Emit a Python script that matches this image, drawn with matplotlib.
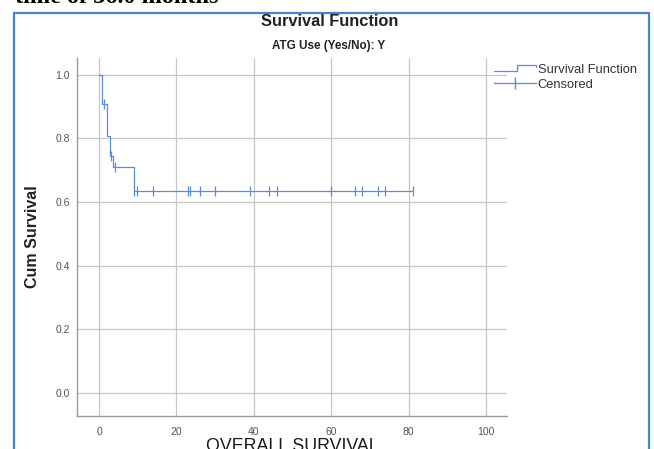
import matplotlib
matplotlib.use("Agg")
import matplotlib.pyplot as plt
from matplotlib.lines import Line2D
from matplotlib.patches import Rectangle
from matplotlib.legend_handler import HandlerBase

plt.rcParams['font.family'] = ['Liberation Sans', 'DejaVu Sans']

# Kaplan-Meier steps (time, cum survival)
step_times = [0, 0.7, 2.1, 2.8, 3.7, 8.9]
step_surv = [1.0, 0.909, 0.808, 0.745, 0.711, 0.636]
last_time = 81

# censored cases
censor_times = [1.3, 3.1, 4.0, 8.9, 9.8, 14, 23, 23.5, 26, 30, 39, 44, 46, 60, 66, 68, 72, 74, 81]
censor_surv = [0.909, 0.745, 0.711] + [0.636] * 16

x_ticks = [0, 20, 40, 60, 80, 100]
y_ticks = [0.0, 0.2, 0.4, 0.6, 0.8, 1.0]

blue = "#5b8fd3"
grid_col = "#c8c8c8"


class StepHandler(HandlerBase):
    # little step icon like the SPSS legend
    def create_artists(self, legend, orig, xd, yd, w, h, fontsize, trans):
        xs = [xd, xd + w * 0.55, xd + w * 0.55, xd + w, xd + w]
        ys = [yd + h * 0.15, yd + h * 0.15, yd + h * 0.85, yd + h * 0.85, yd + h * 0.6]
        ln = Line2D(xs, ys, color=blue, lw=0.9, transform=trans)
        return [ln]


fig = plt.figure(figsize=(6.54, 4.49), dpi=100)
W, H = 654, 449
ax = fig.add_axes([77 / W, 1 - 415.6 / H, 430 / W, (415.6 - 58) / H])

ax.step(step_times + [last_time], step_surv + [step_surv[-1]], where='post', color=blue, lw=0.9)
ax.plot(censor_times, censor_surv, linestyle='none', marker='|', markersize=7,
        markeredgewidth=0.9, color=blue)

ax.set_xlim(-5.7, 105.4)
ax.set_ylim(-0.071, 1.053)
ax.set_xticks(x_ticks)
ax.set_yticks(y_ticks)
ax.set_xticklabels([str(v) for v in x_ticks])
ax.set_yticklabels([f"{v:.1f}" for v in y_ticks])
ax.tick_params(length=0, labelsize=7.5, colors="#555555")
ax.tick_params(axis='x', pad=8)
ax.tick_params(axis='y', pad=5)
ax.grid(True, color=grid_col, lw=0.9)
ax.set_axisbelow(True)
for s in ['top', 'right']:
    ax.spines[s].set_visible(False)
for s in ['left', 'bottom']:
    ax.spines[s].set_color("#999999")
    ax.spines[s].set_linewidth(1.0)

ax.set_ylabel("Cum Survival", fontsize=11.5, fontweight='bold', color="#222222")
ax.yaxis.set_label_coords(-0.086, 0.5)
ax.set_xlabel("OVERALL SURVIVAL", fontsize=12.8, color="#1a1a1a")
ax.xaxis.set_label_coords(0.5, -0.063)
ax.xaxis.label.set_verticalalignment('top')

handles = [Line2D([], [], color=blue), Line2D([], [], color=blue, marker='|', markersize=8, lw=0.9)]
leg = fig.legend(handles, ["Survival Function", "Censored"], loc='upper left',
                 bbox_to_anchor=(482 / W, 1 - 52 / H), frameon=False, fontsize=9.3,
                 handlelength=3.3, handletextpad=0.1, labelspacing=0.25,
                 handler_map={handles[0]: StepHandler()})
for t in leg.get_texts():
    t.set_color("#333333")

fig.text(330 / W, 1 - 22 / H, "Survival Function", ha='center', va='center',
         fontsize=11.8, fontweight='bold', color="#222222")
fig.text(329 / W, 1 - 46 / H, "ATG Use (Yes/No): Y", ha='center', va='center',
         fontsize=8.4, fontweight='bold', color="#222222")

# cut-off header text from the page above
fig.text(15 / W, 1 - 3 / H, "time of 36.0 months", ha='left', va='baseline',
         fontsize=17.5, fontweight='bold', family=['Liberation Serif'], color="black")

fig.patches.append(Rectangle((14 / W, -0.05), (649 - 14) / W, 1.05 - 13 / H,
                             transform=fig.transFigure, fill=False, edgecolor="#4a80cc",
                             lw=1.6, figure=fig))

fig.savefig("out.png", dpi=100)
